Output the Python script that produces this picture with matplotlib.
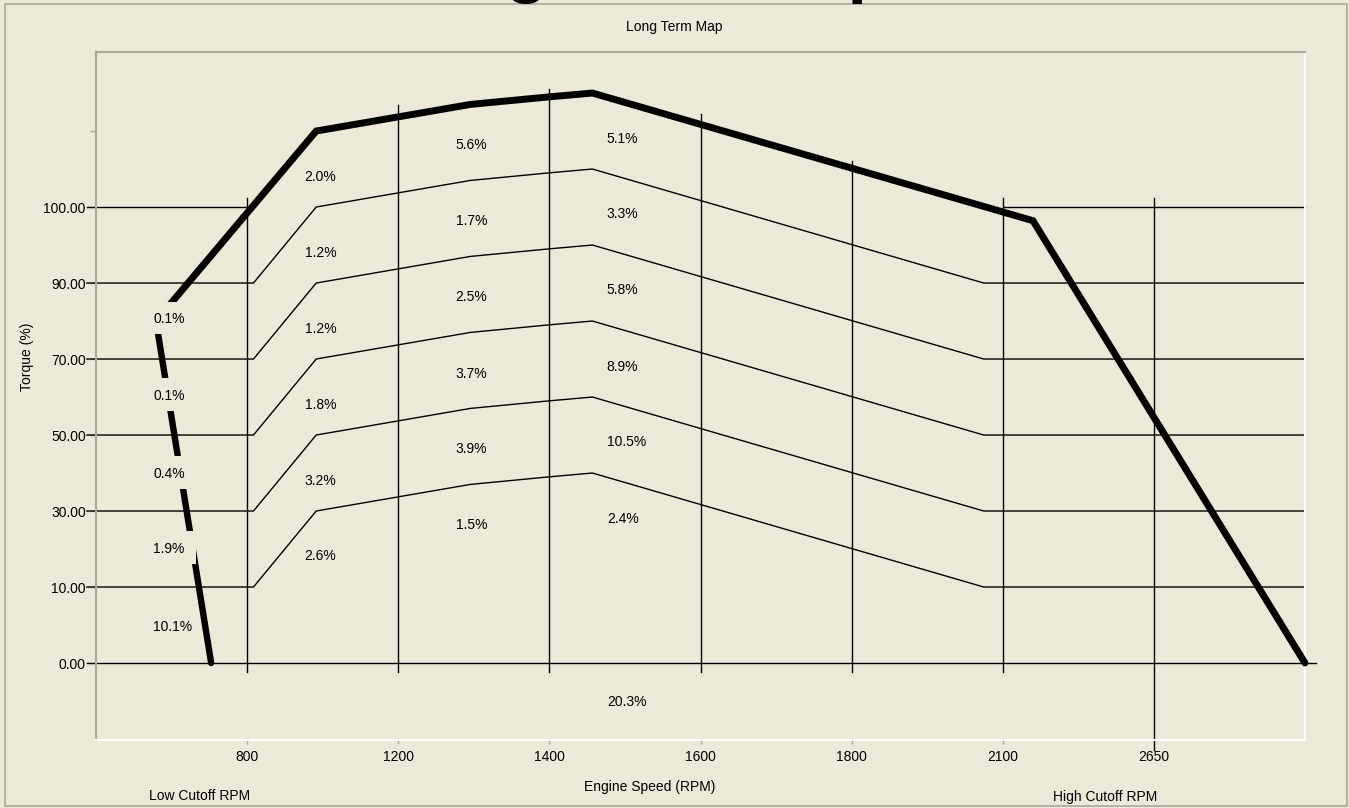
import matplotlib
matplotlib.use('Agg')
import matplotlib.pyplot as plt
from matplotlib.patches import Rectangle

# ---------------- data (chart's own grid coordinates) ----------------
x_tick_pos = [1, 2, 3, 4, 5, 6, 7]
x_tick_labels = ['800', '1200', '1400', '1600', '1800', '2100', '2650']
y_tick_pos = [0, 1, 2, 3, 4, 5, 6, 7]
y_tick_labels = ['0.00', '10.00', '30.00', '50.00', '70.00', '90.00', '100.00', '']

# vertical grid lines: top / bottom extents
vline_top = [6.12, 7.34, 7.55, 7.22, 6.60, 6.12, 6.12]
vline_bottom = [-0.12, -0.12, -0.12, -0.12, -0.12, -0.12, -1.15]

# torque contour lines (thin)
contour_x = [-0.06, 1.042, 1.457, 2.477, 3.0, 3.285, 5.874, 8.0]
contour_10 = [1, 1, 2, 2.35, 2.45, 2.5, 1, 1]
contour_30 = [2, 2, 3, 3.35, 3.45, 3.5, 2, 2]
contour_50 = [3, 3, 4, 4.35, 4.45, 4.5, 3, 3]
contour_70 = [4, 4, 5, 5.35, 5.45, 5.5, 4, 4]
contour_90 = [5, 5, 6, 6.35, 6.45, 6.5, 5, 5]

# 0 % and 100 % grid lines
zero_x = [-0.06, 8.07]
zero_y = [0, 0]
full_left_x = [-0.06, 1.0]
full_right_x = [6.0, 8.0]
full_y = [6, 6]

# maximum torque curve (thick)
max_x = [0.397, 1.457, 2.477, 3.0, 3.285, 6.2, 8.0]
max_y = [4.5, 7.0, 7.35, 7.45, 7.5, 5.82, 0.0]

# low cutoff line
low_x = [0.762, 0.397]
low_y = [0.0, 4.5]

# residency percentages
pct_labels = ['0.1%', '0.1%', '0.4%', '1.9%', '10.1%',
              '2.0%', '1.2%', '1.2%', '1.8%', '3.2%', '2.6%',
              '5.6%', '1.7%', '2.5%', '3.7%', '3.9%', '1.5%',
              '5.1%', '3.3%', '5.8%', '8.9%', '10.5%', '2.4%',
              '20.3%']
pct_x = [0.38] * 5 + [1.38] * 6 + [2.38] * 6 + [3.38] * 6 + [3.38]
pct_y = [4.54, 3.53, 2.51, 1.52, 0.50,
         6.42, 5.42, 4.42, 3.42, 2.42, 1.43,
         6.83, 5.84, 4.83, 3.82, 2.83, 1.83,
         6.92, 5.93, 4.93, 3.92, 2.93, 1.92,
         -0.49]

# ---------------- drawing ----------------
W, H = 1349, 808
BG = '#ECE9D8'
GRAY = '#ACA899'
plt.rcParams['font.family'] = ['Liberation Sans', 'DejaVu Sans']

fig = plt.figure(figsize=(W / 100, H / 100), dpi=100, facecolor=BG)

# clipped big heading at the very top
fig.text(634 / W, 1 + 10 / H, 'Long Term Map', fontsize=50, fontweight='bold',
         ha='center', va='baseline', color='black')
# outer frame
fig.patches.append(Rectangle((5 / W, 1 - 806 / H), (1347 - 5) / W, (806 - 4) / H,
                             transform=fig.transFigure, fill=False,
                             edgecolor=GRAY, linewidth=1.2))

ax = fig.add_axes([96 / W, 1 - 740 / H, (1305 - 96) / W, (740 - 52) / H])
ax.set_facecolor(BG)
ax.set_xlim(0, 8)
ax.set_ylim(-1.013, 8.04)

for side in ('left', 'top'):
    ax.spines[side].set_color(GRAY)
    ax.spines[side].set_linewidth(1.5)
for side in ('right', 'bottom'):
    ax.spines[side].set_color('white')
    ax.spines[side].set_linewidth(1.5)

ax.set_xticks(x_tick_pos)
ax.set_xticklabels(x_tick_labels)
ax.set_yticks(y_tick_pos)
ax.set_yticklabels(y_tick_labels)
ax.tick_params(axis='x', length=3, width=1, color=GRAY, pad=4.5, labelsize=10)
ax.tick_params(axis='y', length=4.3, width=1, color=GRAY, pad=3, labelsize=10)

lw_thin = 1.0
for xv, top, bot in zip(x_tick_pos, vline_top, vline_bottom):
    ax.plot([xv, xv], [bot, top], color='black', lw=lw_thin, clip_on=False, zorder=2)

ax.plot(zero_x, zero_y, color='black', lw=lw_thin, clip_on=False, zorder=2)
ax.plot(full_left_x, full_y, color='black', lw=lw_thin, clip_on=False, zorder=2)
ax.plot(full_right_x, full_y, color='black', lw=lw_thin, clip_on=False, zorder=2)
for cy in (contour_10, contour_30, contour_50, contour_70, contour_90):
    ax.plot(contour_x, cy, color='black', lw=lw_thin, clip_on=False, zorder=2)

ax.plot(max_x, max_y, color='black', lw=5, solid_joinstyle='miter',
        solid_capstyle='round', clip_on=False, zorder=3)
ax.plot(low_x, low_y, color='black', lw=4.6, solid_capstyle='round',
        clip_on=False, zorder=3)

for lab, xv, yv in zip(pct_labels, pct_x, pct_y):
    ax.add_patch(Rectangle((xv - 0.02, yv - 0.215), 0.30, 0.43,
                           facecolor=BG, edgecolor='none', zorder=4))
    ax.text(xv, yv, lab, ha='left', va='center_baseline', fontsize=10,
            color='black', zorder=5)

# texts around the plot
fig.text(674 / W, 1 - 27 / H, 'Long Term Map', ha='center', va='center', fontsize=10)
fig.text(27 / W, 1 - 357 / H, 'Torque (%)', ha='center', va='center',
         rotation=90, fontsize=10)
fig.text(650 / W, 1 - 787 / H, 'Engine Speed (RPM)', ha='center', va='center', fontsize=10)
fig.text(200 / W, 1 - 796 / H, 'Low Cutoff RPM', ha='center', va='center', fontsize=10)
fig.text(1105 / W, 1 - 797 / H, 'High Cutoff RPM', ha='center', va='center', fontsize=10)

fig.savefig('out.png', dpi=100, facecolor=BG)
